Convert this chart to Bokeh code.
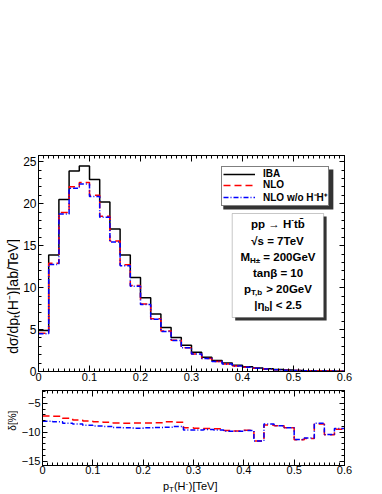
import math
from bokeh.plotting import figure
from bokeh.models import (Label, BoxAnnotation, Legend, LegendItem, LinearAxis,
                          FixedTicker, Range1d)
from bokeh.layouts import column, row
from bokeh.embed import file_html
from bokeh.resources import INLINE

FONT = "Liberation Sans"

# ---------------- data ----------------
bin_edges = [0.00, 0.02, 0.04, 0.06, 0.08, 0.10, 0.12, 0.14, 0.16, 0.18,
             0.20, 0.22, 0.24, 0.26, 0.28, 0.30, 0.32, 0.34, 0.36, 0.38,
             0.40, 0.42, 0.44, 0.46, 0.48, 0.50, 0.52, 0.54, 0.56, 0.58, 0.60]

iba = [4.90, 13.90, 20.50, 23.90, 24.50, 22.90, 20.20, 17.00, 13.90, 11.20,
       8.80, 6.85, 5.26, 4.06, 3.12, 2.30, 1.70, 1.30, 1.00, 0.74,
       0.56, 0.43, 0.32, 0.24, 0.17, 0.13, 0.095, 0.07, 0.05, 0.04]

nlo = [4.55, 12.89, 18.94, 22.01, 22.53, 21.02, 18.52, 15.57, 12.73, 10.26,
       8.06, 6.28, 4.83, 3.72, 2.83, 2.08, 1.54, 1.18, 0.90, 0.67,
       0.51, 0.38, 0.29, 0.22, 0.154, 0.115, 0.084, 0.064, 0.045, 0.036]

nlo_wo_hh = [4.50, 12.76, 18.77, 21.84, 22.34, 20.85, 18.38, 15.44, 12.61, 10.16,
             7.99, 6.22, 4.78, 3.69, 2.82, 2.08, 1.54, 1.18, 0.90, 0.67,
             0.51, 0.38, 0.29, 0.22, 0.154, 0.115, 0.085, 0.064, 0.045, 0.036]

delta_nlo = [-7.20, -7.25, -7.60, -7.90, -8.05, -8.20, -8.30, -8.40, -8.45, -8.40,
             -8.40, -8.35, -8.20, -8.30, -9.25, -9.30, -9.35, -9.40, -9.70, -9.80,
             -9.65, -11.50, -8.75, -8.90, -9.25, -11.30, -11.10, -8.60, -10.45, -9.50]

delta_nlo_wo_hh = [-8.10, -8.20, -8.45, -8.60, -8.80, -8.95, -9.00, -9.20, -9.25, -9.30,
                   -9.25, -9.20, -9.15, -9.00, -9.60, -9.60, -9.55, -9.60, -9.85, -9.85,
                   -9.70, -11.50, -8.60, -8.90, -9.25, -11.25, -11.00, -8.45, -10.40, -9.35]

x_ticks = [0, 0.1, 0.2, 0.3, 0.4, 0.5, 0.6]
y_ticks_main = [0, 5, 10, 15, 20, 25]
y_ticks_ratio = [-15, -10, -5]

series_labels = ["IBA", "NLO", "NLO w/o H\u207bH\u207a"]

# ---------------- text helpers ----------------
W_NORMAL = {'0': .556, '1': .556, '2': .556, '3': .556, '4': .556, '5': .556,
            '6': .556, '7': .556, '8': .556, '9': .556, '.': .278, '-': .333,
            ' ': .278, 'p': .556, 'd': .556, '\u03c3': .60, '/': .278, 'T': .611,
            '(': .333, ')': .333, 'H': .722, '[': .278, ']': .278, 'a': .556,
            'b': .556, 'e': .556, 'V': .667, '%': .889, '\u03b4': .556}
W_BOLD = {'p': .611, 'b': .611, 't': .333, 'H': .722, '\u2192': 1.0, '\u221a': .549,
          's': .556, '=': .584, 'T': .611, 'e': .556, 'V': .667, 'M': .833,
          'G': .778, '\u00b1': .549, 'a': .556, 'n': .611, '\u03b2': .60, '>': .584,
          ',': .278, '|': .28, '\u03b7': .611, '<': .584, '.': .278, ' ': .278,
          '-': .333, '\u0304': 0.0, 'I': .278, 'B': .722, 'A': .722, 'N': .722,
          'L': .611, 'O': .778, 'w': .778, 'o': .611, '/': .278,
          '\u207b': .40, '\u207a': .40}
for _d in '0123456789':
    W_BOLD[_d] = .556


def text_width(txt, size, bold):
    table = W_BOLD if bold else W_NORMAL
    return sum(table.get(c, .56) for c in txt) * size


def _split_lead(t):
    s = t.lstrip(" ")
    return t[:len(t) - len(s)], s


def mk_label(align="left", **kw):
    return Label(text_font=FONT, text_color="black", text_baseline="middle",
                 text_align=align, **kw)


def place_h(p, pieces, cx, cy, sy):
    """Compose pieces (text, size, bold, up_px) left to right, centred at data (cx, cy)."""
    total = sum(text_width(t, s, b) for t, s, b, _ in pieces)
    off = -total / 2.0
    for t, s, b, up in pieces:
        lead, body = _split_lead(t)
        off_l = off + text_width(lead, s, b)
        p.add_layout(mk_label(x=cx, y=cy + up / sy, x_offset=off_l, text=body,
                              text_font_size=f"{s}px",
                              text_font_style="bold" if b else "normal"))
        off += text_width(t, s, b)


ROT = math.pi / 2   # text reading from bottom to top


class TextStrip:
    """A small figure whose data coordinates are pixels (x from left, y from bottom)."""

    def __init__(self, w, h, page_top):
        self.h = h
        self.page_top = page_top
        f = figure(width=w, height=h, x_range=Range1d(0, w), y_range=Range1d(0, h),
                   output_backend="svg", toolbar_location=None,
                   x_axis_location=None, y_axis_location=None, min_border=0)
        f.xgrid.visible = False
        f.ygrid.visible = False
        f.outline_line_color = None
        f.background_fill_color = "white"
        f.border_fill_color = "white"
        self.fig = f

    def y(self, page_y):
        return self.h - (page_y - self.page_top)

    def horizontal(self, pieces, cx, mid_page_y):
        total = sum(text_width(t, s, b) for t, s, b, _ in pieces)
        off = -total / 2.0
        my = self.y(mid_page_y)
        for t, s, b, up in pieces:
            lead, body = _split_lead(t)
            w = text_width(body, s, b)
            start = off + text_width(lead, s, b)
            self.fig.add_layout(mk_label(align="center", x=cx + start + w / 2, y=my + up,
                                         text=body, text_font_size=f"{s}px",
                                         text_font_style="bold" if b else "normal"))
            off += text_width(t, s, b)

    def vertical_single(self, text, size, mid_x, center_page_y):
        self.fig.add_layout(mk_label(align="center", x=mid_x, y=self.y(center_page_y),
                                     angle=ROT, text=text,
                                     text_font_size=f"{size}px"))


def style_axis(ax, ticks, minor, size, show, standoff, tick_in=6):
    ax.ticker = FixedTicker(ticks=ticks, minor_ticks=minor)
    ax.axis_line_color = "black"
    ax.axis_line_width = 1
    ax.major_tick_in = tick_in
    ax.major_tick_out = 0
    ax.minor_tick_in = 3
    ax.minor_tick_out = 0
    ax.major_tick_line_color = "black"
    ax.minor_tick_line_color = "black"
    ax.major_label_text_font = FONT
    if show:
        ax.major_label_text_color = "black"
        ax.major_label_text_font_size = size
        ax.major_label_standoff = standoff
    else:
        ax.major_label_text_color = None
        ax.major_label_text_font_size = "0px"
        ax.major_label_standoff = 0


def make_fig(width, height, yr, b_left, b_right, b_top, b_bottom):
    p = figure(width=width, height=height, x_range=Range1d(0, 0.6),
               y_range=Range1d(*yr), output_backend="svg",
               toolbar_location=None)
    p.min_border_left = b_left
    p.min_border_right = b_right
    p.min_border_top = b_top
    p.min_border_bottom = b_bottom
    p.xgrid.visible = False
    p.ygrid.visible = False
    p.outline_line_color = "black"
    p.background_fill_color = "white"
    p.border_fill_color = "white"
    p.add_layout(LinearAxis(), "above")
    p.add_layout(LinearAxis(), "right")
    return p


x_minor = [i / 100 for i in range(61)]

# page geometry: main frame x 36..344, y 155..371; ratio frame y 390..465
L1, L2 = 20, 18
H1, H2 = 386, 92
H3 = 494 - H1 - H2

# ---------------- main panel ----------------
p1 = make_fig(382 - L1, H1, (0, 25.75), 36 - L1, 382 - 344, 155, H1 - 371)
SX = 308 / 0.6
SY1 = 216 / 25.75

style_axis(p1.below[0], x_ticks, x_minor, "11px", True, 1)
style_axis(p1.above[0], x_ticks, x_minor, "11px", False, 0)
style_axis(p1.left[0], y_ticks_main, list(range(0, 26)), "12px", True, 2, tick_in=5)
style_axis(p1.right[0], y_ticks_main, list(range(0, 26)), "12px", False, 0, tick_in=5)

r_iba = p1.step(x=bin_edges, y=iba + [iba[-1]], mode="after",
                line_color="black", line_width=1.5)
r_nlo = p1.step(x=bin_edges, y=nlo + [nlo[-1]], mode="after",
                line_color="red", line_width=1.5, line_dash="7 4")
r_wo = p1.step(x=bin_edges, y=nlo_wo_hh + [nlo_wo_hh[-1]], mode="after",
               line_color="blue", line_width=1.5, line_dash="5 2 1 2")

# legend (bottom-left corner given relative to the frame) + its shadow
LEG_X, LEG_Y = 183, 165
LEG_FS = 10
LEG_PAD, LEG_GW, LEG_STAND = 1, 32, 8
LW = 2 * LEG_PAD + LEG_GW + LEG_STAND + max(text_width(s, LEG_FS, True) for s in series_labels) + 3
LH = 2 * LEG_PAD + 3 * 1.27 * LEG_FS
p1.add_layout(BoxAnnotation(left=(LEG_X + 3) / SX, right=(LEG_X + 3 + LW) / SX,
                            bottom=(LEG_Y - 3) / SY1, top=(LEG_Y - 3 + LH) / SY1,
                            fill_color="#333333", fill_alpha=1.0, line_color=None))
legend = Legend(items=[LegendItem(label=series_labels[0], renderers=[r_iba]),
                       LegendItem(label=series_labels[1], renderers=[r_nlo]),
                       LegendItem(label=series_labels[2], renderers=[r_wo])],
                location=(LEG_X, LEG_Y), orientation="vertical",
                label_text_font=FONT, label_text_font_size=f"{LEG_FS}px",
                label_text_font_style="bold", label_text_color="black",
                glyph_width=LEG_GW, glyph_height=10, label_height=10,
                label_standoff=LEG_STAND, spacing=0, padding=LEG_PAD, margin=0,
                border_line_color="black", border_line_width=1,
                background_fill_color="white", background_fill_alpha=1.0)
p1.add_layout(legend)

# info box
bl, br, bt, bb = (231 - 36) / SX, (323 - 36) / SX, (371 - 213) / SY1, (371 - 317) / SY1
dx, dy = 3 / SX, 3 / SY1
p1.add_layout(BoxAnnotation(left=bl + dx, right=br + dx, bottom=bb - dy, top=bt - dy,
                            fill_color="#333333", fill_alpha=1.0, line_color=None))
p1.add_layout(BoxAnnotation(left=bl, right=br, bottom=bb, top=bt,
                            fill_color="white", fill_alpha=1.0,
                            line_color="#444444", line_width=1))

cx = (bl + br) / 2
F = 11.5
S = 8
info_lines = [
    [("pp \u2192 H", F, True, 0), ("-", S, True, 4.5), ("tb\u0304", F, True, 0)],
    [("\u221as = 7TeV", F, True, 0)],
    [("M", F, True, 0), ("H\u00b1", S, True, -3.5), (" = 200GeV", F, True, 0)],
    [("tan\u03b2 = 10", F, True, 0)],
    [("p", F, True, 0), ("T,b", S, True, -3.5), (" > 20GeV", F, True, 0)],
    [("|\u03b7", F, True, 0), ("b", S, True, -3.5), ("| < 2.5", F, True, 0)],
]
line_py = [223, 240, 256, 272, 288, 304]
for pieces, py in zip(info_lines, line_py):
    place_h(p1, pieces, cx, (371 - py) / SY1, SY1)

# main y title (own strip on the left), one rotated text
fl1 = TextStrip(L1, H1, 0)
fl1.vertical_single("d\u03c3/dp\u209c(H\u207b)[ab/TeV]", 14, 12, 252)

# ---------------- ratio panel ----------------
p2 = make_fig(382 - L2, H2, (-15.75, -2.8), 36 - L2, 382 - 344, 390 - H1, H1 + H2 - 465)
style_axis(p2.below[0], x_ticks, x_minor, "11px", True, 0)
style_axis(p2.above[0], x_ticks, x_minor, "11px", False, 0)
style_axis(p2.left[0], y_ticks_ratio, list(range(-15, -2)), "11px", True, 2, tick_in=5)
style_axis(p2.right[0], y_ticks_ratio, list(range(-15, -2)), "11px", False, 0, tick_in=5)

p2.step(x=bin_edges, y=delta_nlo + [delta_nlo[-1]], mode="after",
        line_color="red", line_width=1.5, line_dash="7 4")
p2.step(x=bin_edges, y=delta_nlo_wo_hh + [delta_nlo_wo_hh[-1]], mode="after",
        line_color="blue", line_width=1.5, line_dash="5 2 1 2")

fl2 = TextStrip(L2, H2, H1)
fl2.vertical_single("\u03b4[%]", 10, 11.5, 423)

# x title strip below the ratio panel
fb = TextStrip(382, H3, H1 + H2)
fb.horizontal([("p", 11, False, 0), ("T", 8, False, -3), ("(H", 11, False, 0),
               ("-", 8, False, 3), (")[TeV]", 11, False, 0)], 190, 485.5)

layout = column(row(fl1.fig, p1), row(fl2.fig, p2), fb.fig)
open("out.html", "w").write(file_html(layout, INLINE))
